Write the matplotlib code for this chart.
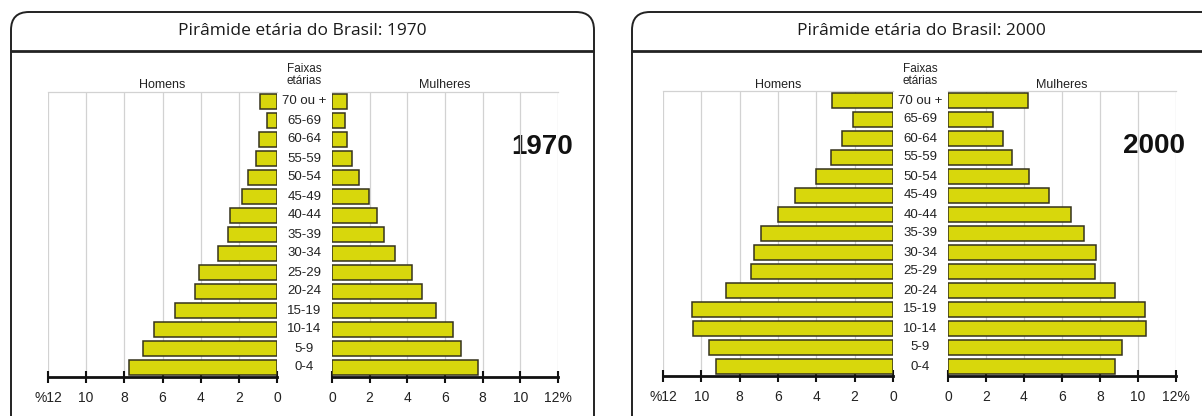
import matplotlib
matplotlib.use("Agg")
import matplotlib.pyplot as plt
from matplotlib.patches import FancyBboxPatch
from matplotlib.transforms import blended_transform_factory

# Faixas etárias (de baixo para cima)
ages = ["0-4", "5-9", "10-14", "15-19", "20-24", "25-29", "30-34", "35-39",
        "40-44", "45-49", "50-54", "55-59", "60-64", "65-69", "70 ou +"]

# % da população
male_1970 = [7.73, 7.01, 6.47, 5.37, 4.31, 4.11, 3.08, 2.58,
             2.44, 1.82, 1.50, 1.10, 0.94, 0.54, 0.88]
female_1970 = [7.77, 6.86, 6.45, 5.50, 4.76, 4.27, 3.34, 2.77,
               2.41, 1.96, 1.44, 1.07, 0.79, 0.67, 0.79]
male_2000 = [9.25, 9.60, 10.44, 10.48, 8.73, 7.41, 7.25, 6.91,
             5.99, 5.09, 4.01, 3.25, 2.64, 2.08, 3.19]
female_2000 = [8.81, 9.16, 10.40, 10.38, 8.81, 7.76, 7.80, 7.15,
               6.46, 5.34, 4.26, 3.35, 2.92, 2.38, 4.20]

ticks = [0, 2, 4, 6, 8, 10, 12]
male_labels = ["0", "2", "4", "6", "8", "10", "%12"]
female_labels = ["0", "2", "4", "6", "8", "10", "12%"]

W, H = 1202, 416
BAR = "#d8d70c"
EDGE = "#35331c"
GRID = "#d2d2d2"
LABEL_FONT = "Liberation Sans"

fig = plt.figure(figsize=(W / 100, H / 100), dpi=100)

# fundo em coordenadas de pixel
bg = fig.add_axes([0, 0, 1, 1], zorder=0)
bg.set_xlim(0, W)
bg.set_ylim(H, 0)
bg.axis("off")


def px_axes(x0, x1, y0, y1):
    return fig.add_axes([x0 / W, (H - y1) / H, (x1 - x0) / W, (y1 - y0) / H], zorder=2)


def side(ax, values, labels, inverted):
    y = range(len(values))
    ax.barh(y, values, height=0.84, color=BAR, edgecolor=EDGE, linewidth=1.1, zorder=3)
    ax.set_xlim((12, 0) if inverted else (0, 12))
    ax.set_ylim(-0.5, len(values) - 0.5)
    ax.set_facecolor("none")
    ax.set_xticks(ticks)
    ax.set_xticklabels(labels, fontfamily=LABEL_FONT, fontsize=10, color="#222222")
    ax.set_yticks([])
    for t in ticks[1:]:
        ax.axvline(t, color=GRID, lw=0.9, zorder=1)
    for s in ["left", "right"]:
        ax.spines[s].set_visible(False)
    ax.spines["top"].set_color(GRID)
    ax.spines["top"].set_linewidth(0.9)
    ax.spines["bottom"].set_linewidth(2.0)
    ax.spines["bottom"].set_color("#111111")
    ax.tick_params(axis="x", direction="inout", length=8, width=1.5, color="#111111", pad=6)


def panel(x_frame0, x_frame1, title, year, m_rng, f_rng, y_top, y_axis, male, female, year_xy):
    frame = FancyBboxPatch((x_frame0, 12), x_frame1 - x_frame0, 600,
                           boxstyle="round,pad=0,rounding_size=18",
                           facecolor="white", edgecolor="#222222", linewidth=1.4, zorder=1)
    bg.add_patch(frame)
    bg.plot([x_frame0, x_frame1], [50.5, 50.5], color="#222222", lw=2.0,
            solid_capstyle="butt", zorder=2)
    mid = (x_frame0 + min(x_frame1, 1210)) / 2
    bg.text(mid, 31, title, ha="center", va="center", fontsize=12.5,
            fontfamily="Open Sans", color="#1a1a1a", zorder=3)

    ax_m = px_axes(m_rng[0], m_rng[1], y_top, y_axis)
    ax_f = px_axes(f_rng[0], f_rng[1], y_top, y_axis)
    side(ax_m, male, male_labels, True)
    side(ax_f, female, female_labels, False)

    cx = (m_rng[1] + f_rng[0]) / 2
    tr = blended_transform_factory(bg.transData, ax_m.transData)
    for i, lab in enumerate(ages):
        ax_m.text(cx, i, lab, transform=tr, ha="center", va="center",
                  fontfamily=LABEL_FONT, fontsize=9.5, color="#222222", clip_on=False)

    bg.text(cx, 75, "Faixas\netárias", ha="center", va="center", fontsize=8.5,
            fontfamily=LABEL_FONT, color="#222222", linespacing=1.0, zorder=3)
    bg.text((m_rng[0] + m_rng[1]) / 2, 85, "Homens", ha="center", va="center",
            fontsize=9, fontfamily=LABEL_FONT, color="#222222", zorder=3)
    bg.text((f_rng[0] + f_rng[1]) / 2, 85, "Mulheres", ha="center", va="center",
            fontsize=9, fontfamily=LABEL_FONT, color="#222222", zorder=3)
    bg.text(year_xy[0], year_xy[1], year, ha="center", va="center", fontsize=20,
            fontweight="bold", fontfamily=LABEL_FONT, color="#111111", zorder=3)


panel(11, 594, "Pirâmide etária do Brasil: 1970", "1970",
      (48, 277), (332, 558), 92, 377, male_1970, female_1970, (542, 147))
panel(632, 1230, "Pirâmide etária do Brasil: 2000", "2000",
      (663, 893), (948, 1176), 91, 376, male_2000, female_2000, (1154, 146))

fig.savefig("out.png", dpi=100)
